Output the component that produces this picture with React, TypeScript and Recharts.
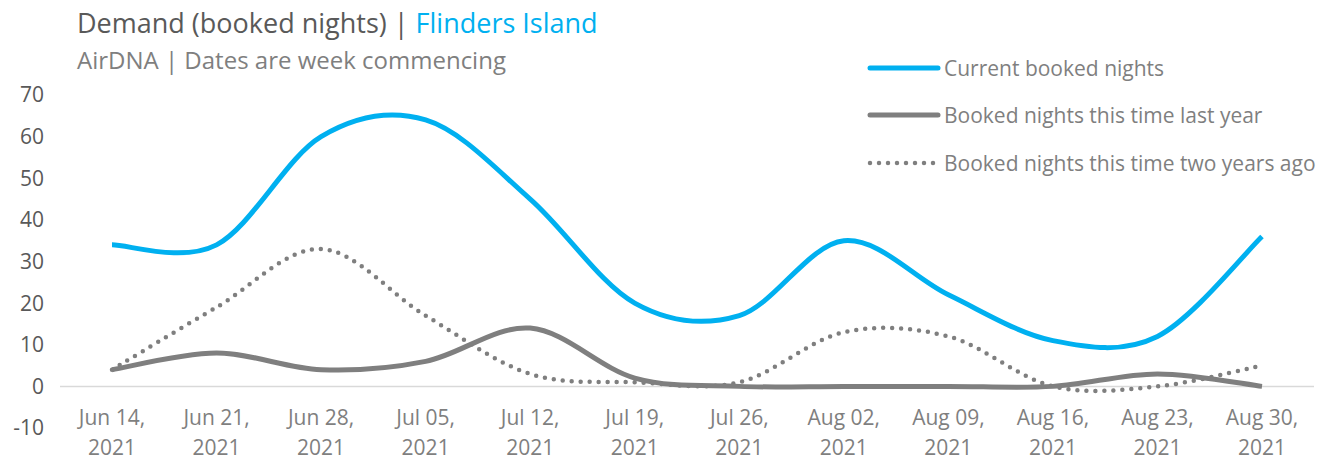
import { LineChart, Line, XAxis, YAxis, ReferenceLine } from 'recharts';

const weeks = ['Jun 14', 'Jun 21', 'Jun 28', 'Jul 05', 'Jul 12', 'Jul 19', 'Jul 26', 'Aug 02', 'Aug 09', 'Aug 16', 'Aug 23', 'Aug 30'];
const current = [34, 34, 60, 64, 45, 20, 17, 35, 22, 11, 12, 36];
const lastYear = [4, 8, 4, 6, 14, 2, 0, 0, 0, 0, 3, 0];
const twoYearsAgo = [4, 19, 33, 17, 3, 1, 1, 13, 12, 0, 0, 5];
const yTicks = [-10, 0, 10, 20, 30, 40, 50, 60, 70];

const data = weeks.map((w, i) => ({
    week: w + ', 2021',
    current: current[i],
    lastYear: lastYear[i],
    twoYearsAgo: twoYearsAgo[i],
}));

const FONT = '"Open Sans", sans-serif';
const BLUE = '#00b0f0';
const GREY = '#7f7f7f';

// Excel style smoothing (Catmull-Rom through every point)
const excelSmooth: any = (ctx: any) => {
    let pts: [number, number][] = [];
    return {
        areaStart() {},
        areaEnd() {},
        lineStart() { pts = []; },
        point(x: number, y: number) { pts.push([+x, +y]); },
        lineEnd() {
            if (!pts.length) return;
            ctx.moveTo(pts[0][0], pts[0][1]);
            for (let i = 0; i < pts.length - 1; i++) {
                const p0 = pts[i - 1] || pts[i];
                const p1 = pts[i];
                const p2 = pts[i + 1];
                const p3 = pts[i + 2] || p2;
                ctx.bezierCurveTo(
                    p1[0] + (p2[0] - p0[0]) / 6, p1[1] + (p2[1] - p0[1]) / 6,
                    p2[0] - (p3[0] - p1[0]) / 6, p2[1] - (p3[1] - p1[1]) / 6,
                    p2[0], p2[1]
                );
            }
        },
    };
};

const DateTick = ({ x, y, payload }: any) => {
    const [md, yr] = String(payload.value).split(', ');
    return (
        <g>
            <text x={x} y={y - 11} textAnchor="middle" fill="#7f7f7f" fontSize={21} fontFamily={FONT}>{md},</text>
            <text x={x} y={y + 19} textAnchor="middle" fill="#7f7f7f" fontSize={21} fontFamily={FONT}>{yr}</text>
        </g>
    );
};

const legendItems = [
    { label: 'Current booked nights', color: BLUE, dash: undefined, width: 5 },
    { label: 'Booked nights this time last year', color: GREY, dash: undefined, width: 5 },
    { label: 'Booked nights this time two years ago', color: GREY, dash: '0 9', width: 4.5 },
];

export default function App() {
    return (
        <div style={{ position: 'relative', width: 1315, height: 454, fontFamily: FONT, background: '#fff' }}>
            <div style={{ position: 'absolute', left: 69, top: -4, fontSize: 27, color: '#595959', whiteSpace: 'nowrap' }}>
                Demand (booked nights) | <span style={{ color: BLUE }}>Flinders Island</span>
            </div>
            <div style={{ position: 'absolute', left: 69, top: 35, fontSize: 24, color: '#7f7f7f', whiteSpace: 'nowrap' }}>
                AirDNA | Dates are week commencing
            </div>
            <div style={{ position: 'absolute', left: 858, top: 36 }}>
                {legendItems.map((it) => (
                    <div key={it.label} style={{ display: 'flex', alignItems: 'center', height: 47.5 }}>
                        <svg width={76} height={10}>
                            <line x1={4} y1={5} x2={72} y2={5} stroke={it.color} strokeWidth={it.width}
                                strokeLinecap="round" strokeDasharray={it.dash} />
                        </svg>
                        <span style={{ fontSize: 21, color: '#7f7f7f', marginLeft: 2, whiteSpace: 'nowrap' }}>{it.label}</span>
                    </div>
                ))}
            </div>
            <LineChart width={1315} height={454} data={data} margin={{ top: 87, right: 9, left: 0, bottom: 0 }}
                style={{ position: 'absolute', left: 0, top: 0 }}>
                <XAxis dataKey="week" height={34} axisLine={false} tickLine={false} interval={0}
                    padding={{ left: 52, right: 52 }} tick={<DateTick />} />
                <YAxis width={52} domain={[-10, 70]} ticks={yTicks} axisLine={false} tickLine={false} tickMargin={10}
                    tick={{ fill: '#595959', fontSize: 21, fontFamily: FONT }} />
                <ReferenceLine y={0} stroke="#d9d9d9" strokeWidth={1.5} />
                <Line dataKey="twoYearsAgo" type={excelSmooth} stroke={GREY} strokeWidth={4.5} strokeDasharray="0 9"
                    strokeLinecap="round" dot={false} activeDot={false} isAnimationActive={false} />
                <Line dataKey="lastYear" type={excelSmooth} stroke={GREY} strokeWidth={5} dot={false}
                    activeDot={false} isAnimationActive={false} />
                <Line dataKey="current" type={excelSmooth} stroke={BLUE} strokeWidth={5} dot={false}
                    activeDot={false} isAnimationActive={false} />
            </LineChart>
        </div>
    );
}
